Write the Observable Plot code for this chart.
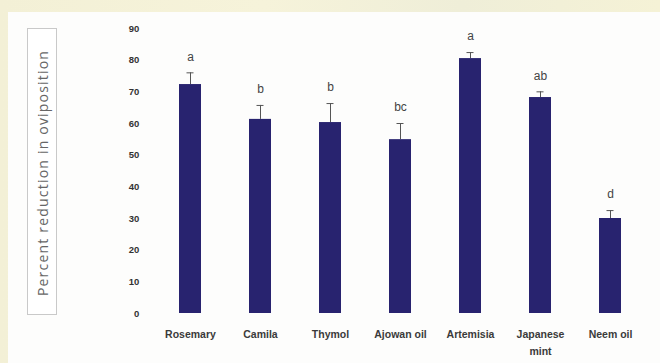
<!DOCTYPE html>
<html>
<head>
<meta charset="utf-8">
<script src="https://cdn.jsdelivr.net/npm/d3@7"></script>
<script src="https://cdn.jsdelivr.net/npm/@observablehq/plot@0.6"></script>
<style>
  html, body { margin: 0; padding: 0; }
  body { width: 660px; height: 363px; overflow: hidden; position: relative;
         background: linear-gradient(90deg, #f3f0d6 0%, #f6f3da 40%, #efeed8 70%, #f5f2d6 100%); }
  #panel { position: absolute; left: 8px; top: 12px; right: 0; bottom: 0; background: #fdfdfc; }
  #chart { position: absolute; left: 0; top: 0; }
  #ylab { position: absolute; left: 27px; top: 28px; width: 30px; height: 287px;
          border: 1px solid #c9c9c9; box-sizing: border-box; background: #fff; }
  #ylab span { position: absolute; left: 50%; top: 50%; white-space: nowrap;
          transform: translate(-50%, -45%) rotate(-90deg);
          font-family: "Open Sans", sans-serif; font-size: 14px; color: #666; letter-spacing: 1.2px; }
</style>
</head>
<body>
<div id="panel"></div>
<div id="ylab"><span>Percent reduction in oviposition</span></div>
<div id="chart"></div>
<script>
const categories = ["Rosemary", "Camila", "Thymol", "Ajowan oil", "Artemisia", "Japanese\nmint", "Neem oil"];
const values = [72.3, 61.3, 60.3, 54.9, 80.5, 68.2, 30.0];
const errors = [3.7, 4.4, 6.0, 5.1, 1.9, 1.8, 2.5];
const letters = ["a", "b", "b", "bc", "a", "ab", "d"];
const yTicks = [0, 10, 20, 30, 40, 50, 60, 70, 80, 90];

const data = categories.map((c, i) => ({cat: c, v: values[i], e: errors[i], hi: values[i] + errors[i], lab: letters[i]}));

const barColor = "#28236f";

const chart = Plot.plot({
  width: 660,
  height: 363,
  marginLeft: 152.75,
  marginRight: 13.75,
  marginTop: 28,
  marginBottom: 50,
  style: { background: "transparent", fontFamily: "Liberation Sans, Arial, sans-serif" },
  x: { domain: categories, paddingInner: 0.69, paddingOuter: 0.345, label: null },
  y: { domain: [0, 90], ticks: yTicks, label: null },
  marks: [
    Plot.axisY({ ticks: yTicks, tickSize: 0, tickPadding: 14, fontSize: 9.5, fontWeight: "bold", fill: "#333", label: null }),
    Plot.axisX({ tickSize: 0, tickPadding: 12, fontSize: 10.5, fontWeight: "bold", fill: "#3a3a3a", lineHeight: 1.65, label: null }),
    Plot.ruleX(data, { x: "cat", y1: "v", y2: "hi", stroke: "#555", strokeWidth: 1 }),
    Plot.tickY(data, { x: "cat", y: "hi", stroke: "#555", strokeWidth: 1, insetLeft: 7.5, insetRight: 7.5 }),
    Plot.barY(data, { x: "cat", y: "v", fill: barColor }),
    Plot.text(data, { x: "cat", y: "hi", text: "lab", dy: -16, fontSize: 12, fill: "#444", fontFamily: "Liberation Sans, Arial, sans-serif" })
  ]
});
document.getElementById("chart").appendChild(chart);
</script>
</body>
</html>
